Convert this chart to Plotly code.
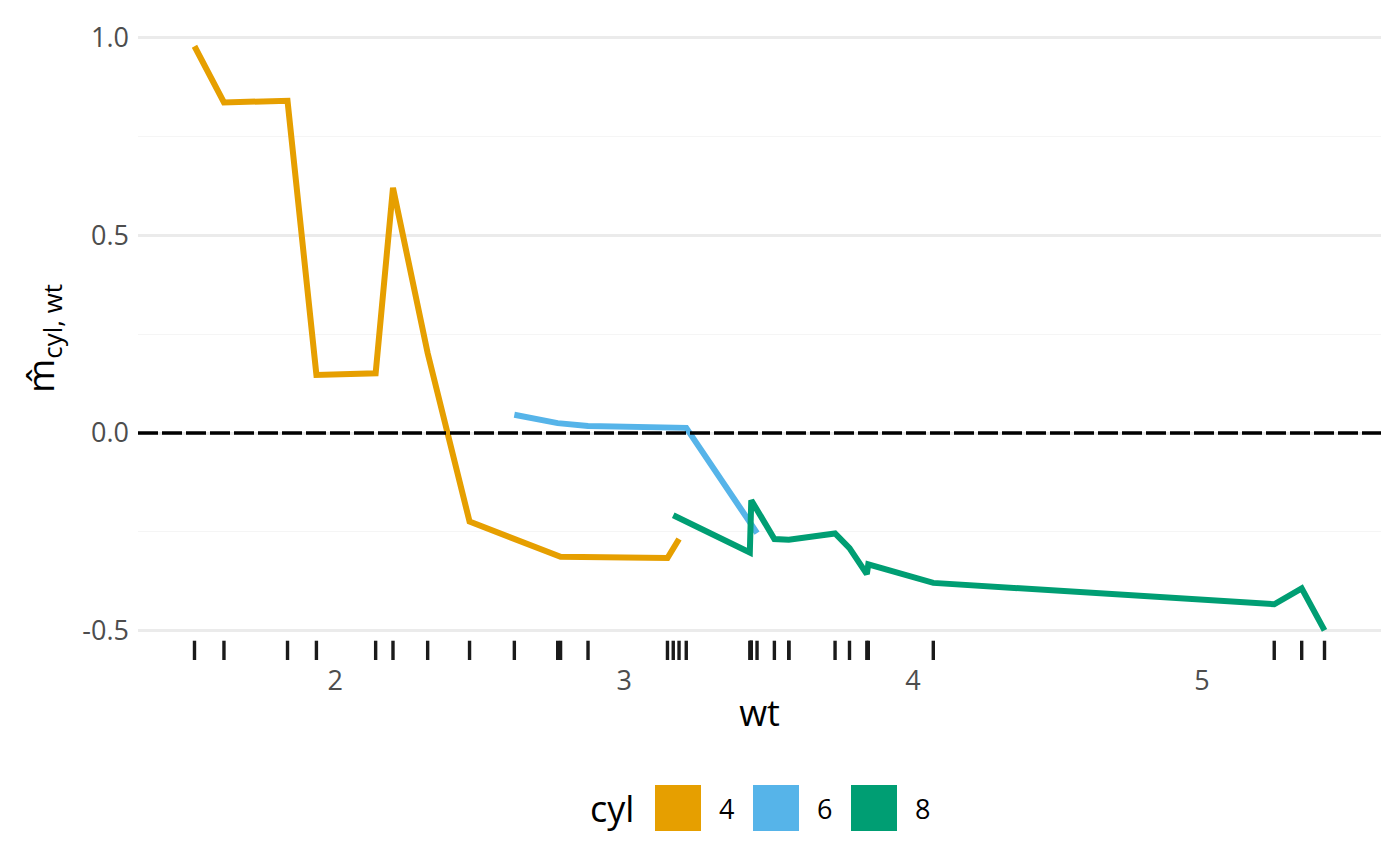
import plotly.graph_objects as go

# marginal effect of cyl along wt (mtcars)
cyl_levels = ["4", "6", "8"]
cyl_colors = ["#E69F00", "#56B4E9", "#009E73"]

wt_4 = [1.513, 1.615, 1.835, 1.935, 2.140, 2.200, 2.320, 2.465, 2.780, 3.150, 3.190]
m_4 = [0.978, 0.836, 0.840, 0.147, 0.151, 0.620, 0.202, -0.224, -0.313, -0.316, -0.268]

wt_6 = [2.620, 2.770, 2.875, 3.215, 3.440, 3.440, 3.460]
m_6 = [0.046, 0.025, 0.018, 0.013, -0.231, -0.231, -0.253]

wt_8 = [3.170, 3.435, 3.440, 3.520, 3.570, 3.570, 3.730, 3.780, 3.840, 3.845,
        4.070, 5.250, 5.345, 5.424]
m_8 = [-0.208, -0.302, -0.170, -0.268, -0.270, -0.270, -0.254, -0.291, -0.357,
       -0.332, -0.379, -0.433, -0.393, -0.499]

# all observed weights (rug)
wt_all = [2.620, 2.875, 2.320, 3.215, 3.440, 3.460, 3.570, 3.190, 3.150, 3.440,
          3.440, 4.070, 3.730, 3.780, 5.250, 5.424, 5.345, 2.200, 1.615, 1.835,
          2.465, 3.520, 3.435, 3.840, 3.845, 1.935, 2.140, 1.513, 3.170, 2.770,
          3.570, 2.780]

x_ticks = [2, 3, 4, 5]
y_ticks = [-0.5, 0.0, 0.5, 1.0]
y_ticktext = ["-0.5", "0.0", "0.5", "1.0"]

# page has an 8px body margin, so the figure is a bit smaller than the window
OFF = 8
W, H = 1384, 850
ML, MR, MT, MB = 130, 11, 9, 198
FONT = "Open Sans"


def px_x(p):
    # screen pixel -> paper x
    return (p - OFF - ML) / (W - ML - MR)


def px_y(p):
    # screen pixel -> paper y
    return (H - MB - (p - OFF)) / (H - MT - MB)


fig = go.Figure()

for wts, ms, col in zip([wt_4, wt_6, wt_8], [m_4, m_6, m_8], cyl_colors):
    fig.add_trace(go.Scatter(x=wts, y=ms, mode="lines",
                             line=dict(color=col, width=6),
                             showlegend=False, hoverinfo="skip"))

# dashed zero line
fig.add_hline(y=0, line=dict(color="black", width=3.5, dash="20px,4px"))

# rug
for w in wt_all:
    fig.add_shape(type="line", xref="x", yref="y domain", x0=w, x1=w, y0=0, y1=0.03,
                  line=dict(color="#1A1A1A", width=3.4))

# legend at the bottom drawn by hand (ggplot-style square keys)
fig.add_annotation(text="cyl", xref="paper", yref="paper", x=px_x(612), y=px_y(808),
                   xanchor="center", yanchor="middle", showarrow=False,
                   font=dict(size=36, color="black", family=FONT))
for i, (lab, col) in enumerate(zip(cyl_levels, cyl_colors)):
    x0 = 655 + i * 98
    fig.add_shape(type="rect", xref="paper", yref="paper",
                  x0=px_x(x0), x1=px_x(x0 + 46), y0=px_y(831), y1=px_y(785),
                  fillcolor=col, line=dict(width=0))
    fig.add_annotation(text=lab, xref="paper", yref="paper", x=px_x(x0 + 71), y=px_y(808),
                       xanchor="center", yanchor="middle", showarrow=False,
                       font=dict(size=27, color="black", family=FONT))

fig.update_layout(
    width=W, height=H,
    margin=dict(l=ML, r=MR, t=MT, b=MB),
    paper_bgcolor="white", plot_bgcolor="white",
    font=dict(family=FONT, color="#4D4D4D"),
    xaxis=dict(range=[1.3175, 5.6195], tickvals=x_ticks, showgrid=False, zeroline=False,
               ticks="", tickfont=dict(size=27, color="#4D4D4D"), ticklabelstandoff=2,
               title=dict(text="wt", font=dict(size=36, color="black"), standoff=3)),
    yaxis=dict(range=[-0.574, 1.052], tickvals=y_ticks, ticktext=y_ticktext,
               showgrid=True, gridcolor="#EBEBEB", gridwidth=2.6, zeroline=False,
               ticks="", tickfont=dict(size=27, color="#4D4D4D"), ticklabelstandoff=8,
               minor=dict(tickvals=[-0.25, 0.25, 0.75], showgrid=True,
                          gridcolor="#F5F5F5", gridwidth=1.3),
               title=dict(text="m\u0302<sub>cyl, wt</sub>", font=dict(size=37, color="black"),
                          standoff=16)),
)

fig.write_html("out.html")
